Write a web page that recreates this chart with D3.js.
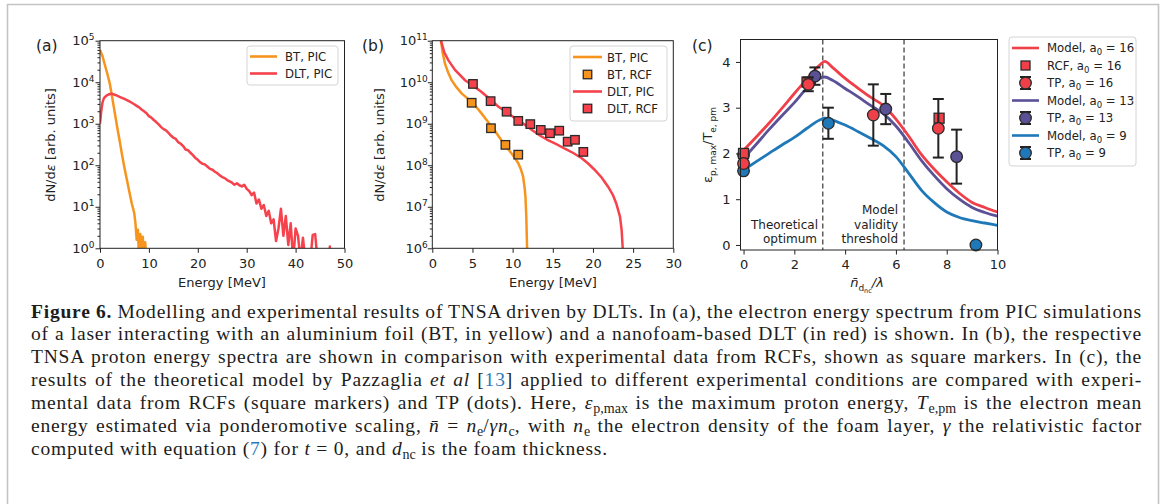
<!DOCTYPE html>
<html>
<head>
<meta charset="utf-8">
<script src="https://cdn.jsdelivr.net/npm/d3@7/dist/d3.min.js"></script>
<style>
  body { margin: 0; background: #fff; }
  #fig { position: relative; width: 1167px; height: 504px; overflow: hidden; }
  #fig svg { position: absolute; left: 0; top: 0; }
  .cap { position: absolute; left: 31px; top: 300.5px; width: 1111px;
         font-family: "Liberation Serif", "Times New Roman", serif; font-size: 19.5px;
         letter-spacing: 0.8px; line-height: 22.87px; color: #1c1c1c; }
  .cap div { white-space: nowrap; }
  .cap sub { font-size: 0.72em; line-height: 0; vertical-align: baseline; position: relative; top: 0.3em; letter-spacing: 0; }
  .cap .ref { color: #2b7bbb; }
</style>
</head>
<body>
<div id="fig">
  <div class="cap">
    <div><span class="ln"><b>Figure 6.</b> Modelling and experimental results of TNSA driven by DLTs. In (a), the electron energy spectrum from PIC simulations</span></div>
    <div><span class="ln">of a laser interacting with an aluminium foil (BT, in yellow) and a nanofoam-based DLT (in red) is shown. In (b), the respective</span></div>
    <div><span class="ln">TNSA proton energy spectra are shown in comparison with experimental data from RCFs, shown as square markers. In (c), the</span></div>
    <div><span class="ln">results of the theoretical model by Pazzaglia <i>et al</i> [<span class="ref">13</span>] applied to different experimental conditions are compared with experi-</span></div>
    <div><span class="ln">mental data from RCFs (square markers) and TP (dots). Here, <i>ε</i><sub>p,max</sub> is the maximum proton energy, <i>T</i><sub>e,pm</sub> is the electron mean</span></div>
    <div><span class="ln">energy estimated via ponderomotive scaling, <i>n̄</i> = <i>n</i><sub>e</sub>/<i>γn</i><sub>c</sub>, with <i>n</i><sub>e</sub> the electron density of the foam layer, <i>γ</i> the relativistic factor</span></div>
    <div class="last"><span class="ln">computed with equation (<span class="ref">7</span>) for <i>t</i> = 0, and <i>d</i><sub>nc</sub> is the foam thickness.</span></div>
  </div>
</div>
<script>
// ---------- data: panel (a) electron spectra ----------
const energyBtA = [0, 0.5, 1, 1.5, 2, 2.5, 3, 3.5, 4, 4.5, 5, 5.5, 6, 6.5, 7, 7.25, 7.5, 7.75, 8, 8.25, 8.5, 8.75, 9, 9.25, 9.5];
const btPicA = [60000, 43000, 26000, 16000, 9300, 4300, 1900, 850, 400, 180, 87, 45, 23, 12, 7.1, 4, 1.6, 2.8, 0.5, 2.2, 0.5, 1.9, 0.5, 1.4, 0.5];

const energyDltA = [0, 0.25, 0.5, 0.75, 1, 1.5, 2, 2.5, 3, 3.5, 4, 4.5, 5, 5.5, 6, 6.5, 7, 7.5, 8, 8.5, 9, 9.5,
  10, 10.5, 11, 11.5, 12, 12.5, 13, 13.5, 14, 14.5, 15, 15.5, 16, 16.5, 17, 17.5, 18, 18.5, 19, 19.5,
  20, 20.5, 21, 21.5, 22, 22.5, 23, 23.5, 24, 24.5, 25, 25.5, 26, 26.5, 27, 27.5, 28, 28.5, 29, 29.5,
  30, 30.5, 31, 31.5, 32, 32.5, 33, 33.5, 34, 34.5, 35, 35.5, 36, 36.5, 37, 37.5, 38, 38.5, 39, 39.5,
  40, 40.5, 41, 41.5, 42, 42.5, 43, 43.5, 44, 44.5, 45, 46.9, 47, 47.1];
const dltPicA = [1000, 2000, 3200, 4000, 4400, 4900, 5200, 5250, 5000, 4750, 4450, 4200, 3950, 3700, 3450, 3200, 2950, 2700, 2480, 2200, 2000, 1800,
  1520, 1400, 1230, 1100, 960, 830, 740, 690, 600, 520, 460, 430, 360, 330, 290, 240, 230, 200, 175, 150,
  135, 118, 108, 104, 92, 82, 78, 70, 64, 57, 52, 49, 44, 41, 38, 34, 37, 33, 31, 34,
  27, 24, 19, 22, 12, 15, 9, 11, 6, 8, 4, 5, 1.5, 3, 9, 2, 6, 1.2, 4, 0.5,
  3, 2, 0.5, 1.8, 0.5, 0.5, 0.5, 2.1, 2.2, 0.5, 0.5, 0.5, 1.1, 0.5];

// ---------- data: panel (b) proton spectra ----------
const energyBtB = [0.8, 1.08, 1.3, 1.58, 2, 2.4, 3, 3.65, 4.3, 4.9, 5.5, 6.1, 6.8, 7.4, 8, 8.6, 9.2, 9.85, 10.3, 10.7, 11, 11.3, 11.5, 11.6, 11.7, 11.8, 11.85];
const btPicB = [2.5e11, 1e11, 5e10, 2.8e10, 1.66e10, 1.12e10, 7.6e9, 5.4e9, 4.2e9, 3.4e9, 2.5e9, 1.8e9, 1.2e9, 8.5e8, 5.9e8, 4e8, 2.8e8, 1.95e8, 1.48e8, 1.12e8, 8.3e7, 5.4e7, 2.8e7, 1.7e7, 5.8e6, 1e6, 3e5];
const energyDltB = [0.8, 1.08, 1.5, 1.99, 2.8, 4.07, 5, 6.1, 7.2, 8.2, 9.3, 10.3, 11.4, 12.4, 13.4, 14.4, 15.5, 16.5, 17.6, 18.6, 19.4, 20.2, 21.1, 21.9, 22.5, 22.9, 23.36, 23.57, 23.7, 23.75];
const dltPicB = [2.5e11, 1e11, 5.2e10, 3.4e10, 2e10, 1.12e10, 8.5e9, 5.9e9, 3.9e9, 2.6e9, 1.86e9, 1.35e9, 9.8e8, 7.1e8, 5.2e8, 4e8, 3.2e8, 2.5e8, 1.95e8, 1.48e8, 1.1e8, 7.8e7, 5e7, 3e7, 1.9e7, 1.2e7, 5.8e6, 2.75e6, 1e6, 3e5];
const rcfBtE = [4.9, 7.3, 9.1, 10.7];
const rcfBt = [3.2e9, 7.8e8, 3.1e8, 1.8e8];
const rcfDltE = [5.06, 7.26, 9.25, 10.7, 12.2, 13.5, 14.65, 15.8, 16.85, 17.76, 18.8];
const rcfDlt = [9.1e9, 3.5e9, 1.95e9, 1.17e9, 9.8e8, 7.1e8, 5.9e8, 6.8e8, 3.7e8, 4.1e8, 2.1e8];

// ---------- data: panel (c) model vs experiment ----------
const nBar = [0, 0.5, 1, 1.5, 2, 2.5, 3, 3.2, 3.5, 4, 4.5, 5, 5.5, 6, 6.5, 7, 7.5, 8, 8.5, 9, 9.5, 10];
const model16 = [2.07, 2.36, 2.66, 2.98, 3.31, 3.63, 3.93, 4.01, 3.88, 3.64, 3.43, 3.23, 3.05, 2.75, 2.38, 1.98, 1.66, 1.38, 1.13, 0.93, 0.82, 0.72];
const model13 = [1.89, 2.2, 2.52, 2.82, 3.11, 3.43, 3.64, 3.67, 3.6, 3.42, 3.24, 3.05, 2.87, 2.6, 2.24, 1.85, 1.52, 1.23, 1.0, 0.82, 0.71, 0.63];
const model9 = [1.64, 1.82, 2.0, 2.18, 2.35, 2.55, 2.73, 2.77, 2.73, 2.62, 2.48, 2.33, 2.17, 1.93, 1.57, 1.2, 0.93, 0.72, 0.6, 0.53, 0.48, 0.43];
const rcf16X = [0, 2.5, 7.7];
const rcf16Y = [2.0, 3.56, 2.77];
const tp16X = [0, 2.55, 5.11, 7.67];
const tp16Y = [1.78, 3.51, 2.84, 2.55];
const tp16Err = [0.05, 0.15, 0.67, 0.64];
const tp13X = [0, 2.81, 5.6, 8.39];
const tp13Y = [1.97, 3.69, 2.97, 1.93];
const tp13Err = [0.05, 0.19, 0.33, 0.59];
const tp9X = [0, 3.34, 9.15];
const tp9Y = [1.62, 2.66, 0];
const tp9Err = [0.05, 0.34, 0];
const guideX = [3.12, 6.32];

// colours
const col = { orange: "#f7941d", red: "#f5424c", cred: "#ef4049", purple: "#5b5197", blue: "#1f78b8", ink: "#222" };
const FONT = '"DejaVu Sans", sans-serif';

// justify caption lines: spread the leftover width over the word gaps
document.querySelectorAll(".cap div").forEach(div => {
  if (div.classList.contains("last")) return;
  const span = div.querySelector(".ln");
  const gaps = span.textContent.split(" ").length - 1;
  const w = span.getBoundingClientRect().width;
  div.style.wordSpacing = ((1111 - w) / gaps) + "px";
});

const svg = d3.select("#fig").append("svg").attr("width", 1167).attr("height", 504);

// page frame
svg.append("path")
  .attr("d", "M7.5,504V4.5H1158.5V504")
  .attr("fill", "none").attr("stroke", "#c4c4c4").attr("stroke-width", 1.6);

// scales
const xA = d3.scaleLinear().domain([0, 50]).range([100, 344.5]);
const yA = d3.scaleLog().domain([1, 1e5]).range([248.3, 40.7]);
const xB = d3.scaleLinear().domain([0, 30]).range([432.3, 673.3]);
const yB = d3.scaleLog().domain([1e6, 1e11]).range([248.3, 40.7]);
const xC = d3.scaleLinear().domain([-0.12, 10]).range([740.5, 997.5]);
const yC = d3.scaleLinear().domain([-0.11, 4.49]).range([250, 39.5]);

function styleAxis(ax) {
  ax.attr("font-family", FONT).attr("font-size", 13).attr("color", col.ink);
  ax.select(".domain").remove();
  return ax;
}

function clipFor(id, x, y) {
  const [x0, x1] = x.range(), [y0, y1] = y.range();
  svg.append("clipPath").attr("id", id).append("rect")
    .attr("x", x0).attr("y", y1).attr("width", x1 - x0).attr("height", y0 - y1);
  return svg.append("g").attr("clip-path", `url(#${id})`);
}

function frame(x, y) {
  const [x0, x1] = x.range(), [y0, y1] = y.range();
  svg.append("rect").attr("x", x0).attr("y", y1).attr("width", x1 - x0).attr("height", y0 - y1)
    .attr("fill", "none").attr("stroke", col.ink).attr("stroke-width", 1);
}

function xAxis(x, y, ticks) {
  const y0 = y.range()[0];
  styleAxis(svg.append("g").attr("transform", `translate(0,${y0})`)
    .call(d3.axisBottom(x).tickValues(ticks).tickSize(4.5).tickPadding(5.5).tickFormat(d3.format("d"))));
}

function logYAxis(x, y, exps, pad) {
  const x0 = x.range()[0];
  const ax = styleAxis(svg.append("g").attr("transform", `translate(${x0},0)`)
    .call(d3.axisLeft(y).tickValues(exps.map(e => Math.pow(10, e))).tickSize(4.5).tickPadding(pad).tickFormat(() => "10")));
  ax.selectAll(".tick text").append("tspan").attr("dy", "-0.55em").attr("font-size", "9px")
    .text(d => Math.round(Math.log10(d)));
  const minor = [];
  exps.slice(0, -1).forEach(e => [2, 3, 4, 5, 6, 7, 8, 9].forEach(k => minor.push(k * Math.pow(10, e))));
  styleAxis(svg.append("g").attr("transform", `translate(${x0},0)`)
    .call(d3.axisLeft(y).tickValues(minor).tickSize(2.5).tickFormat("")));
}

function txt(x, y, s, size, anchor) {
  return svg.append("text").attr("x", x).attr("y", y).attr("font-family", FONT)
    .attr("font-size", size).attr("fill", col.ink).attr("text-anchor", anchor || "middle").text(s);
}

function dNdE(cx, cy) {
  const t = svg.append("text").attr("transform", `translate(${cx},${cy}) rotate(-90)`)
    .attr("font-family", FONT).attr("font-size", 13).attr("fill", col.ink).attr("text-anchor", "middle");
  t.append("tspan").text("dN/d");
  t.append("tspan").attr("font-style", "italic").text("ε");
  t.append("tspan").text(" [arb. units]");
}

function square(g, cx, cy, s, fill) {
  g.append("rect").attr("x", cx - s / 2).attr("y", cy - s / 2).attr("width", s).attr("height", s)
    .attr("fill", fill).attr("stroke", "#2a2a2a").attr("stroke-width", 1.3);
}

function errDot(g, cx, cy, ylo, yhi, fill) {
  g.append("line").attr("x1", cx).attr("x2", cx).attr("y1", ylo).attr("y2", yhi)
    .attr("stroke", col.ink).attr("stroke-width", 2);
  [ylo, yhi].forEach(v => g.append("line").attr("x1", cx - 5.5).attr("x2", cx + 5.5).attr("y1", v).attr("y2", v)
    .attr("stroke", col.ink).attr("stroke-width", 2));
  g.append("circle").attr("cx", cx).attr("cy", cy).attr("r", 5.8)
    .attr("fill", fill).attr("stroke", "#2a2a2a").attr("stroke-width", 1.3);
}

function legendBox(x, y, w, h) {
  svg.append("rect").attr("x", x).attr("y", y).attr("width", w).attr("height", h).attr("rx", 3)
    .attr("fill", "#fff").attr("fill-opacity", 0.85).attr("stroke", "#d4d4d4").attr("stroke-width", 1);
}

function legendLine(x0, x1, y, color) {
  svg.append("line").attr("x1", x0).attr("x2", x1).attr("y1", y).attr("y2", y)
    .attr("stroke", color).attr("stroke-width", 2.6);
}

// ================= panel (a) =================
{
  const g = clipFor("clipA", xA, yA);
  const line = d3.line().x(d => xA(d[0])).y(d => yA(d[1]));
  g.append("path").datum(d3.zip(energyBtA, btPicA)).attr("d", line)
    .attr("fill", "none").attr("stroke", col.orange).attr("stroke-width", 2.5).attr("stroke-linejoin", "round");
  g.append("path").datum(d3.zip(energyDltA, dltPicA)).attr("d", line)
    .attr("fill", "none").attr("stroke", col.red).attr("stroke-width", 2.5).attr("stroke-linejoin", "round");
  frame(xA, yA);
  xAxis(xA, yA, [0, 10, 20, 30, 40, 50]);
  logYAxis(xA, yA, [0, 1, 2, 3, 4, 5], 1);
  txt(222, 287, "Energy [MeV]", 13);
  dNdE(55, 145);
  txt(36, 51, "(a)", 15.5, "start");
  legendBox(247, 46, 91, 39);
  legendLine(250, 277, 56.5, col.orange);
  txt(285, 61, "BT, PIC", 11.7, "start");
  legendLine(250, 277, 73.5, col.red);
  txt(285, 78, "DLT, PIC", 11.7, "start");
}

// ================= panel (b) =================
{
  const g = clipFor("clipB", xB, yB);
  const line = d3.line().x(d => xB(d[0])).y(d => yB(d[1]));
  g.append("path").datum(d3.zip(energyBtB, btPicB)).attr("d", line)
    .attr("fill", "none").attr("stroke", col.orange).attr("stroke-width", 2.5);
  g.append("path").datum(d3.zip(energyDltB, dltPicB)).attr("d", line)
    .attr("fill", "none").attr("stroke", col.red).attr("stroke-width", 2.5);
  const m = svg.append("g");
  rcfBtE.forEach((e, i) => square(m, xB(e), yB(rcfBt[i]), 8.5, col.orange));
  rcfDltE.forEach((e, i) => square(m, xB(e), yB(rcfDlt[i]), 8.5, col.red));
  frame(xB, yB);
  xAxis(xB, yB, [0, 5, 10, 15, 20, 25, 30]);
  logYAxis(xB, yB, [6, 7, 8, 9, 10, 11], 0);
  txt(553, 287, "Energy [MeV]", 13);
  dNdE(384, 145);
  txt(362, 51, "(b)", 15.5, "start");
  legendBox(570, 46, 97, 75);
  legendLine(573, 602, 57, col.orange);
  txt(607, 61.5, "BT, PIC", 11.7, "start");
  square(svg, 587.5, 74.5, 8.5, col.orange);
  txt(607, 79, "BT, RCF", 11.7, "start");
  legendLine(573, 602, 91.5, col.red);
  txt(607, 96, "DLT, PIC", 11.7, "start");
  square(svg, 587.5, 108.5, 8.5, col.red);
  txt(607, 113, "DLT, RCF", 11.7, "start");
}

// ================= panel (c) =================
{
  const g = clipFor("clipC", xC, yC);
  const [yb, yt] = yC.range();
  guideX.forEach(v => g.append("line").attr("x1", xC(v)).attr("x2", xC(v)).attr("y1", yt).attr("y2", yb)
    .attr("stroke", "#444").attr("stroke-width", 1.3).attr("stroke-dasharray", "5,3"));
  const line = d3.line().x(d => xC(d[0])).y(d => yC(d[1])).curve(d3.curveMonotoneX);
  [[model16, col.cred], [model13, col.purple], [model9, col.blue]].forEach(([s, c]) =>
    g.append("path").datum(d3.zip(nBar, s)).attr("d", line)
      .attr("fill", "none").attr("stroke", c).attr("stroke-width", 2.8));

  const m = svg.append("g");
  tp9X.forEach((v, i) => errDot(m, xC(v), yC(tp9Y[i]), yC(tp9Y[i] - tp9Err[i]), yC(tp9Y[i] + tp9Err[i]), col.blue));
  tp13X.forEach((v, i) => errDot(m, xC(v), yC(tp13Y[i]), yC(tp13Y[i] - tp13Err[i]), yC(tp13Y[i] + tp13Err[i]), col.purple));
  rcf16X.forEach((v, i) => square(m, xC(v), yC(rcf16Y[i]), 10, col.cred));
  tp16X.forEach((v, i) => errDot(m, xC(v), yC(tp16Y[i]), yC(tp16Y[i] - tp16Err[i]), yC(tp16Y[i] + tp16Err[i]), col.cred));

  frame(xC, yC);
  xAxis(xC, yC, [0, 2, 4, 6, 8, 10]);
  styleAxis(svg.append("g").attr("transform", `translate(${xC.range()[0]},0)`)
    .call(d3.axisLeft(yC).tickValues([0, 1, 2, 3, 4]).tickSize(4.5).tickPadding(5.5).tickFormat(d3.format("d"))));

  // annotations
  const ann = (x, y, s) => txt(x, y, s, 12, "end");
  ann(818, 228.8, "Theoretical");
  ann(817, 243.2, "optimum");
  ann(898, 214.4, "Model");
  ann(898, 228.8, "validity");
  ann(898, 243.2, "threshold");

  // x label: n̄_{d_nc}/λ
  const xl = svg.append("text").attr("x", 867).attr("y", 287).attr("font-family", FONT)
    .attr("font-size", 13).attr("fill", col.ink).attr("text-anchor", "middle");
  xl.append("tspan").attr("font-style", "italic").text("n̄");
  xl.append("tspan").attr("dy", 3.5).attr("font-size", 9).text("d");
  xl.append("tspan").attr("dy", 2).attr("font-size", 6.5).text("nc");
  xl.append("tspan").attr("dy", -5.5).attr("font-style", "italic").text("/λ");

  // y label: ε_{p,max}/T_{e,pm}
  const yl = svg.append("text").attr("transform", "translate(712,145) rotate(-90)").attr("font-family", FONT)
    .attr("font-size", 13).attr("fill", col.ink).attr("text-anchor", "middle");
  yl.append("tspan").text("ε");
  yl.append("tspan").attr("dy", 3.5).attr("font-size", 9).text("p, max");
  yl.append("tspan").attr("dy", -3.5).text("/T");
  yl.append("tspan").attr("dy", 3.5).attr("font-size", 9).text("e, pm");

  txt(692, 51, "(c)", 15.5, "start");

  // legend
  legendBox(1009, 37, 127, 129);
  const rows = [
    { kind: "line", c: col.cred, name: "Model", a0: 16 },
    { kind: "square", c: col.cred, name: "RCF", a0: 16 },
    { kind: "err", c: col.cred, name: "TP", a0: 16 },
    { kind: "line", c: col.purple, name: "Model", a0: 13 },
    { kind: "err", c: col.purple, name: "TP", a0: 13 },
    { kind: "line", c: col.blue, name: "Model", a0: 9 },
    { kind: "err", c: col.blue, name: "TP", a0: 9 }
  ];
  rows.forEach((r, i) => {
    const yy = 48 + i * 17.5;
    if (r.kind === "line") legendLine(1012, 1039, yy, r.c);
    else if (r.kind === "square") square(svg, 1025.5, yy, 9, r.c);
    else errDot(svg, 1025.5, yy, yy + 6, yy - 6, r.c);
    const t = txt(1047, yy + 4.3, r.name + ", a", 11.7, "start");
    t.append("tspan").attr("dy", 3).attr("font-size", 8.5).text("0");
    t.append("tspan").attr("dy", -3).text(" = " + r.a0);
  });
}
</script>
</body>
</html>
